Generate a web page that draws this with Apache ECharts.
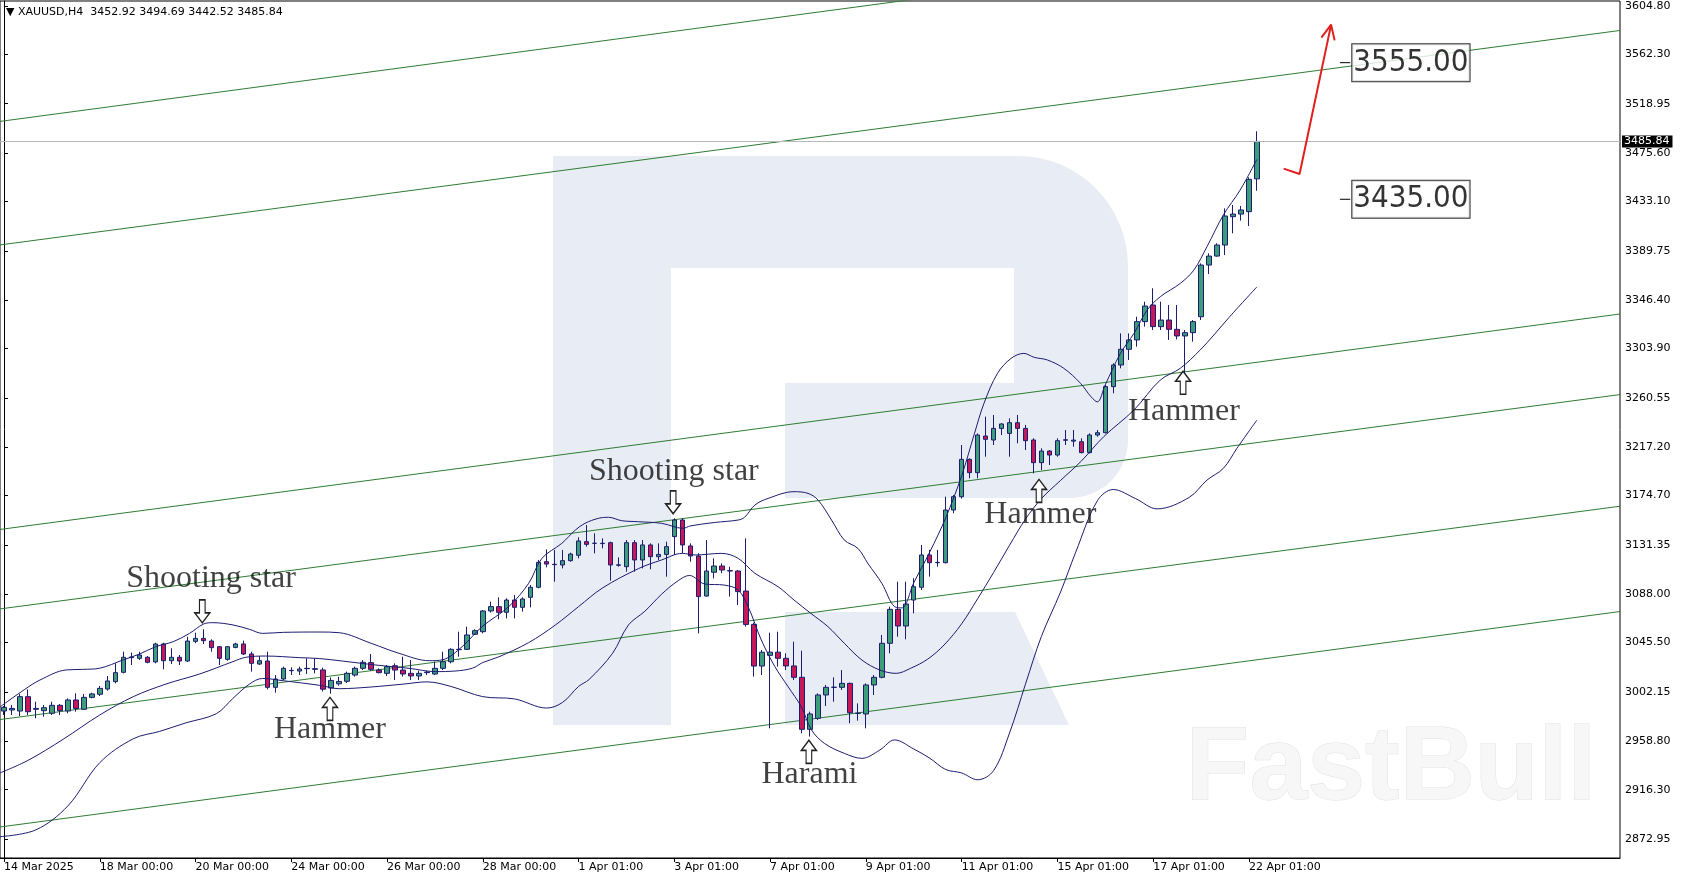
<!DOCTYPE html>
<html><head><meta charset="utf-8">
<script src="https://cdn.jsdelivr.net/npm/echarts@6/dist/echarts.min.js"></script>
<style>html,body{margin:0;padding:0;background:#fff}#c{width:1684px;height:882px}</style>
</head><body><div id="c"></div>
<script>
// ---------------- DATA ----------------
const symbolName = 'XAUUSD,H4';
const opens = [2985.4,2986.3,2985.4,2998.0,2986.9,2985.7,2983.4,2990.4,2985.4,2995.1,2986.9,2997.4,3000.1,3004.7,3011.2,3019.4,3032.3,3031.7,3032.6,3028.5,3044.3,3029.6,3032.6,3029.3,3046.6,3049.2,3046.9,3041.9,3030.8,3041.3,3044.3,3035.5,3026.7,3029.3,3006.2,3013.5,3020.8,3020.5,3022.6,3022.0,
3021.5,3005.6,3009.3,3011.5,3017.0,3022.9,3027.9,3021.4,3018.5,3025.2,3021.4,3018.5,3016.2,3019.1,3017.9,3022.9,3028.7,3039.3,3039.6,3052.8,
3055.1,3073.3,3077.1,3072.1,3082.9,3076.5,3085.3,3094.1,3116.6,3114.3,3113.7,3117.5,3122.2,3134.2,3132.8,3132.5,3133.3,3113.5,3112.2,3133.3,
3118.1,3131.3,3121.0,3123.0,3138.6,3153.2,3130.4,3121.6,3086.4,3107.3,3112.8,3108.7,3108.4,3090.8,3061.5,3024.9,3034.3,3037.1,3031.7,3025.0,
3015.0,2969.3,2979.0,2999.5,3006.2,3006.2,3009.7,2983.3,2982.8,3008.3,3015.0,3044.9,3074.7,3060.1,3082.9,3094.1,3122.5,3115.7,3115.7,3162.0,
3173.7,3206.5,3194.8,3227.0,3223.5,3233.7,3229.3,3238.7,3233.7,3223.5,3203.6,3213.8,3210.3,3223.3,3222.5,3222.0,3212.4,3227.9,3229.9,3270.4,
3289.4,3303.2,3311.4,3327.5,3342.1,3323.1,3328.9,3320.7,3314.9,3317.8,3331.8,3377.2,3385.1,3394.8,3419.7,3422.0,3424.1,3452.92];
const closes = [2988.6,2987.7,2998.0,2984.8,2987.7,2988.3,2990.4,2985.7,2995.1,2987.7,2997.4,3000.4,3005.3,3011.8,3019.1,3032.6,3032.9,3034.6,3028.2,3044.3,3029.6,3032.6,3029.3,3046.9,3049.2,3047.2,3041.1,3031.7,3041.9,3044.3,3035.5,3027.3,3029.6,3006.2,3013.5,3022.9,3021.1,3022.3,3022.9,3022.6,
3004.6,3012.3,3011.4,3018.5,3022.9,3028.2,3022.0,3019.1,3024.4,3021.4,3017.9,3016.2,3018.5,3019.6,3022.9,3028.7,3039.6,3039.6,3052.2,3056.0,
3073.3,3077.1,3072.1,3082.9,3076.5,3083.8,3094.1,3116.0,3114.5,3114.0,3117.5,3123.3,3134.8,3131.8,3132.7,3132.8,3113.7,3113.8,3133.3,3118.1,
3131.3,3121.0,3123.0,3129.8,3153.2,3131.3,3121.6,3085.9,3108.4,3112.8,3109.3,3108.4,3090.3,3061.5,3024.9,3037.0,3037.1,3031.7,3025.0,3015.0,
2969.3,2982.8,2999.5,3006.2,3006.3,3009.7,2983.9,2983.5,3008.3,3015.0,3044.9,3074.7,3060.1,3079.4,3094.6,3122.5,3115.7,3116.0,3162.0,3173.7,
3206.5,3194.8,3227.9,3224.1,3233.7,3237.6,3238.7,3233.7,3222.9,3203.6,3213.8,3210.3,3222.9,3223.7,3223.4,3212.4,3227.9,3229.9,3270.4,3289.4,
3303.2,3311.4,3327.5,3341.2,3323.1,3328.9,3320.7,3314.9,3317.8,3327.5,3377.2,3385.1,3394.8,3420.3,3422.0,3425.6,3452.5,3485.84];
const lows = [2981.9,2981.9,2981.0,2981.9,2979.0,2980.4,2981.9,2981.9,2983.4,2984.8,2986.3,2996.5,2998.6,3003.3,3009.7,3018.5,3025.8,3030.2,3027.3,3027.3,3022.0,3026.7,3025.8,3028.5,3044.9,3044.3,3037.5,3025.8,3029.6,3040.5,3034.6,3020.0,3025.8,3004.4,3001.5,3012.6,3017.0,3017.0,3017.9,3018.5,
3002.5,3000.6,3007.7,3010.0,3015.6,3021.4,3020.8,3018.5,3016.2,3012.6,3015.6,3012.6,3012.6,3017.0,3017.0,3021.4,3027.3,3033.1,3039.0,3052.2,
3053.6,3071.8,3066.0,3066.8,3066.8,3072.7,3076.5,3093.2,3111.6,3099.0,3110.7,3116.6,3119.5,3129.8,3123.9,3128.3,3099.9,3112.2,3107.8,3107.8,
3110.7,3109.9,3118.1,3103.4,3122.5,3123.9,3116.6,3053.6,3085.9,3101.9,3106.4,3085.9,3078.5,3059.5,3015.6,3017.0,2970.2,3024.4,3021.4,3012.6,
2965.8,2962.9,2977.6,2989.8,2993.6,3003.9,2974.6,2976.9,2970.2,2999.5,3014.1,3036.1,3050.7,3048.4,3071.2,3091.7,3103.4,3112.2,3115.1,3159.1,
3172.0,3189.8,3189.8,3208.8,3219.1,3227.9,3208.8,3220.6,3214.7,3194.2,3197.1,3201.5,3208.8,3219.1,3217.6,3211.8,3211.8,3226.4,3229.3,3264.5,
3286.5,3293.8,3305.5,3323.1,3320.1,3320.1,3311.4,3311.9,3282.1,3309.9,3328.9,3369.3,3384.6,3386.0,3405.1,3416.2,3411.5,3442.52];
const highs = [2989.8,2990.7,3000.4,3004.4,2993.6,2990.7,2993.6,2991.6,2996.5,3000.9,3000.4,3001.5,3007.4,3016.2,3027.3,3037.5,3036.7,3037.5,3033.7,3045.4,3045.4,3040.5,3034.6,3050.7,3054.2,3057.2,3048.4,3042.5,3042.5,3045.4,3047.2,3037.5,3033.7,3037.5,3017.0,3024.4,3023.8,3024.4,3031.7,3031.7,
3023.5,3014.8,3015.4,3020.0,3024.4,3030.2,3035.5,3022.9,3025.8,3027.3,3033.1,3030.2,3020.8,3020.8,3028.7,3037.5,3040.5,3055.1,3059.5,3057.2,
3074.1,3081.5,3085.3,3084.4,3087.3,3085.3,3096.1,3118.1,3127.4,3126.9,3126.9,3124.5,3138.0,3148.8,3141.5,3137.1,3134.2,3120.4,3135.6,3135.6,
3135.6,3132.7,3132.7,3134.2,3154.7,3154.7,3132.7,3124.0,3135.6,3119.5,3115.1,3112.2,3109.3,3137.1,3063.0,3039.0,3054.2,3055.1,3036.1,3046.3,
3038.4,2984.8,3000.9,3008.3,3015.0,3021.4,3010.3,2992.1,3009.7,3017.0,3052.2,3077.1,3099.0,3099.0,3102.0,3131.3,3126.9,3126.9,3173.7,3175.2,
3219.1,3207.4,3229.3,3244.0,3245.5,3238.2,3242.5,3245.5,3236.7,3225.0,3216.2,3214.7,3225.0,3232.3,3232.3,3225.0,3229.3,3232.3,3271.8,3290.9,
3317.2,3317.2,3331.8,3345.0,3356.8,3345.0,3342.1,3342.1,3320.1,3328.9,3378.7,3387.5,3396.3,3427.0,3430.0,3429.1,3454.3,3494.69];

const xTickLabels = ['14 Mar 2025','18 Mar 00:00','20 Mar 00:00','24 Mar 00:00','26 Mar 00:00','28 Mar 00:00','1 Apr 01:00','3 Apr 01:00','7 Apr 01:00','9 Apr 01:00','11 Apr 01:00','15 Apr 01:00','17 Apr 01:00','22 Apr 01:00'];
const yTickValues = [3604.80,3562.30,3518.95,3475.60,3433.10,3389.75,3346.40,3303.90,3260.55,3217.20,3174.70,3131.35,3088.00,3045.50,3002.15,2958.80,2916.30,2872.95];

// Bollinger bands as [bar, price]
const upperBand = [[-0.5,2989],[2.6,3004.4],[4.5,3012.6],[7.8,3021.5],[10,3022],[12,3023],[14.9,3030.2],[17,3035.5],[19,3041.9],[21.2,3046.3],[23.25,3053.6],[25,3061.8],[26.2,3063.0],[28.7,3061.0],[30.75,3057.2],[32.4,3053.6],[35,3054.5],[39.5,3054.8],[42,3054.2],[46,3044.9],[49.5,3036.1],[53.3,3029.6],[55,3030.5],[57.4,3041.9],[59.9,3059.5],[63.25,3077.1],[65.75,3097.6],[67.4,3119.5],[69.9,3132.7],[71.6,3144.4],[72.8,3150.3],[74.5,3154.7],[75.75,3155.6],[77.4,3152.6],[79.5,3151.7],[82.4,3150.3],[85.1,3145.9],[86,3148.0],[89,3151],[92,3153.2],[92.8,3155.6],[94.1,3166.4],[95.75,3172.2],[99,3178.1],[100.75,3176.6],[102,3170.8],[103.7,3153.2],[105.3,3135.6],[107,3128.3],[108.25,3115.1],[110,3097.6],[111.6,3077.1],[112.5,3076],[114,3098],[116,3125],[118,3155],[120,3192],[121.6,3229],[122.8,3255.7],[124.5,3282.1],[126.2,3295.2],[127.8,3299.6],[129.1,3296.1],[130.75,3293.8],[132.8,3286.5],[134.9,3273.3],[136.2,3261.6],[137,3257],[138,3272],[139.9,3299.6],[141.6,3317.2],[143.25,3337.7],[144.9,3349.4],[147.4,3361.1],[149.1,3372.8],[150.75,3393.4],[152.8,3421.2],[154.9,3443.1],[157,3470]];
const middleBand = [[-0.5,2931],[3,2942],[7.4,2960.5],[12,2981.9],[16.2,2998.0],[20.3,3009.1],[24.5,3017.9],[28.7,3028.8],[30.3,3032.6],[32.8,3033.7],[37,3032.3],[39.5,3031.5],[42.4,3029.3],[46.6,3025.8],[50.75,3022.9],[54.1,3020.0],[56.5,3020.5],[58.7,3023],[60,3028],[62,3033],[65.75,3045.5],[69.1,3061],[72,3077.1],[75,3093.5],[79.5,3110.5],[82.4,3118.1],[85,3123.9],[86.6,3122.5],[89.9,3123.9],[92,3119.5],[94.1,3106.4],[97,3094.6],[99,3082.9],[101.1,3071.2],[103.25,3059.5],[105.3,3044.9],[107.5,3030.2],[109.75,3021.4],[111.8,3018.5],[113.6,3022.9],[115.75,3031],[117.8,3043.4],[120,3062],[122,3084],[124,3107],[126,3131],[128,3154],[130,3172],[132.4,3188],[135,3205],[137.8,3226.4],[141.6,3249.9],[144.9,3276.2],[147.4,3286.5],[149.9,3302.6],[151.6,3315.7],[153.6,3331.9],[157,3358]];
const lowerBand = [[-0.5,2875],[4,2881],[8,2902],[12,2940],[16.2,2961],[19.5,2967.5],[22.8,2975],[26.6,2983],[28.7,2996.6],[30.75,3009],[32.4,3014],[35,3012],[39.5,3008],[42,3005],[46,3006.5],[50,3009],[53,3011],[56,3007],[60,2998],[64,2996],[68,2988],[70,2993],[72,3007],[73.3,3013],[76.25,3036],[78.25,3061],[80.3,3073],[82.4,3088],[84.5,3100],[85.9,3104.5],[87.8,3097],[90.3,3096],[92,3091.7],[93.25,3077],[94.9,3047.8],[96.6,3024.4],[98.25,3006.8],[99.9,2989.2],[101.2,2968.7],[102.8,2957.0],[105.3,2948.2],[107.5,2943.8],[109.75,2951.1],[111.6,2960],[114,2952],[116,2944],[118,2934],[120,2931],[122,2925],[124,2933],[126,2966],[128,3009],[130,3051],[132.4,3090],[134.3,3125],[137,3170],[139,3180],[141.8,3172],[144.5,3163],[148.5,3173],[150.75,3188.3],[152.8,3198.6],[154.5,3216.2],[157,3241]];

// Parallel channel lines: [start bar, start price, end bar, end price]
const channelLines = [[-0.5,3503.4,202.5,3693.6],[-0.5,3394.9,202.5,3583.3],[-0.5,3144.9,202.5,3334.2],[-0.5,3075.1,202.5,3263.4],[-0.5,2977.9,202.5,3165.3],[-0.5,2883.5,202.5,3072.8]];

// Forecast arrow (red)
const forecastPath = [[160.35,3461.9],[162.35,3457.2],[166.3,3588.4]];
const forecastHead = [[165.08,3577.1],[166.3,3588.4],[166.74,3574.6]];

// Target / support levels
const levelValues = [3555.00, 3435.00];
const levelBar = 176.3;
const levelTickBars = [167.4, 168.7];

// Candle pattern annotations
const annoNames = ['Shooting star','Hammer','Shooting star','Harami','Hammer','Hammer'];
const annoTextBar = [25.95, 40.85, 83.94, 100.93, 129.86, 147.85];
const annoTextPrice = [3101.5, 2969.4, 3195.8, 2929.8, 3158.1, 3248.7];
const annoArrowBar = [24.85, 40.85, 83.85, 100.86, 129.7, 147.75];
const annoArrowPrice = [3073.0, 2987.3, 3168.8, 2949.6, 3178.8, 3273.8];
const annoArrowDir = ['down','up','down','up','up','up'];

// ---------------- CHART ----------------
const SLOTS = 203;
const PRICE_MIN = 2856.26, PRICE_MAX = 3609.19;
const cats = Array.from({length: SLOTS}, (_, i) => String(i));
const ohlc = opens.map((o, i) => [o, closes[i], lows[i], highs[i]]);
const last = opens.length - 1;
const showTick = (i) => i % 12 === 0 && (i / 12) < xTickLabels.length;

const NAVY = '#1c1c70';
const GREEN_LINE = '#2e7d32';
const DOWN_ARROW = 'path://M5,0 L11,0 L11,13 L16,13 L8,23 L0,13 L5,13 Z';
const UP_ARROW = 'path://M8,0 L16,10 L11,10 L11,23 L5,23 L5,10 L0,10 Z';

const series = [];
channelLines.forEach(c => series.push({
  type: 'line', xAxisIndex: 1, yAxisIndex: 0, data: [[c[0], c[1]], [c[2], c[3]]],
  symbol: 'none', silent: true, lineStyle: {color: GREEN_LINE, width: 1}, z: 1
}));
series.push({
  type: 'candlestick', xAxisIndex: 0, yAxisIndex: 0, data: ohlc, barWidth: 5, z: 3,
  itemStyle: {color: '#3c9d78', color0: '#c41858', borderColor: NAVY, borderColor0: NAVY, borderWidth: 1},
  markLine: {
    silent: true, symbol: ['none', 'none'],
    data: [{yAxis: closes[last]}],
    lineStyle: {color: '#b8b8b8', width: 1, type: 'solid'},
    label: {position: 'end', formatter: p => Number(p.value).toFixed(2), color: '#fff', backgroundColor: '#000',
      padding: [1, 3, 0, 2], fontSize: 11, fontFamily: 'DejaVu Sans', distance: 2}
  }
});
[upperBand, middleBand, lowerBand].forEach(b => series.push({
  type: 'line', xAxisIndex: 1, yAxisIndex: 0, data: b, smooth: 0.35, symbol: 'none', silent: true,
  lineStyle: {color: NAVY, width: 1}, z: 4
}));
series.push({type: 'line', xAxisIndex: 1, data: forecastPath, symbol: 'none', silent: true, lineStyle: {color: '#e0201e', width: 2}, z: 5});
series.push({type: 'line', xAxisIndex: 1, data: forecastHead, symbol: 'none', silent: true, lineStyle: {color: '#e0201e', width: 2}, z: 5});
levelValues.forEach(v => series.push({type: 'line', xAxisIndex: 1, data: levelTickBars.map(b => [b, v]), symbol: 'none', silent: true, lineStyle: {color: '#000', width: 1}, z: 5}));
series.push({
  type: 'scatter', xAxisIndex: 1, data: levelValues.map(v => [levelBar, v]), symbolSize: 0, silent: true, z: 6,
  label: {show: true, position: 'inside', formatter: p => p.value[1].toFixed(2), fontSize: 31, lineHeight: 36,
    fontFamily: "'DejaVu Sans Condensed', 'Liberation Sans', sans-serif", color: '#000',
    backgroundColor: '#fff', borderColor: '#000', borderWidth: 1, padding: [1, 1, 0, 1]}
});
series.push({
  type: 'scatter', xAxisIndex: 1, silent: true, z: 6,
  data: annoArrowBar.map((b, i) => ({value: [b, annoArrowPrice[i]], symbol: annoArrowDir[i] === 'down' ? DOWN_ARROW : UP_ARROW})),
  symbolSize: [15, 23], itemStyle: {color: '#fff', borderColor: '#222', borderWidth: 1.4, opacity: 1}
});
series.push({
  type: 'scatter', xAxisIndex: 1, silent: true, z: 6, symbolSize: 0,
  data: annoTextBar.map((b, i) => [b, annoTextPrice[i]]),
  label: {show: true, position: 'inside', formatter: p => annoNames[p.dataIndex], fontFamily: "'Liberation Serif', serif", fontSize: 32, color: '#111'}
});

const WM = '#e8ecf4';
const option = {
  animation: false,
  backgroundColor: '#fff',
  graphic: [
    {type: 'rect', z: -10, silent: true, shape: {x: 553, y: 156, width: 118, height: 569}, style: {fill: WM}},
    {type: 'rect', z: -10, silent: true, shape: {x: 671, y: 156, width: 457, height: 342, r: [0, 110, 58, 0]}, style: {fill: WM}},
    {type: 'rect', z: -9, silent: true, shape: {x: 671, y: 268, width: 343, height: 115}, style: {fill: '#fff'}},
    {type: 'rect', z: -9, silent: true, shape: {x: 671, y: 383, width: 114, height: 115}, style: {fill: '#fff'}},
    {type: 'polygon', z: -10, silent: true, shape: {points: [[785, 612], [1015, 612], [1069, 725], [785, 725]]}, style: {fill: WM}},
    {type: 'text', z: -8, silent: true, x: 1391, y: 770, style: {text: 'FastBull', font: 'bold 104px "Liberation Sans", sans-serif', fill: '#f7f7f7', stroke: '#e2e2e2', lineWidth: 1, textAlign: 'center', textVerticalAlign: 'middle'}},
    {type: 'text', z: 10, silent: true, x: 6, y: 12,
      style: {text: '\u25BC ' + symbolName + '  ' + [opens[last], highs[last], lows[last], closes[last]].map(v => v.toFixed(2)).join(' '),
        font: '11px "DejaVu Sans", sans-serif', fill: '#000', textVerticalAlign: 'middle'}}
  ],
  grid: {left: 0, right: 64, top: 1, bottom: 24, show: true, borderColor: '#000', borderWidth: 1, backgroundColor: 'transparent'},
  xAxis: [
    {type: 'category', data: cats, boundaryGap: true,
      axisLine: {show: true, lineStyle: {color: '#000'}},
      axisTick: {show: true, alignWithLabel: true, interval: showTick, length: 4, lineStyle: {color: '#000'}},
      axisLabel: {interval: showTick, formatter: (v, i) => xTickLabels[i / 12] || '', align: 'left', margin: 4, fontSize: 11, color: '#000', fontFamily: 'DejaVu Sans'},
      splitLine: {show: false}},
    {type: 'value', min: -0.5, max: SLOTS - 0.5, show: false}
  ],
  yAxis: [{type: 'value', position: 'right', min: PRICE_MIN, max: PRICE_MAX,
    axisLine: {show: true, lineStyle: {color: '#000'}},
    axisTick: {show: true, length: 4, customValues: yTickValues, lineStyle: {color: '#000'}},
    axisLabel: {customValues: yTickValues, formatter: v => v.toFixed(2), margin: 5, fontSize: 11, color: '#000', fontFamily: 'DejaVu Sans'},
    splitLine: {show: false}}],
  series: series
};
const chart = echarts.init(document.getElementById('c'), null, {renderer: 'canvas'});
chart.setOption(option);
</script></body></html>
